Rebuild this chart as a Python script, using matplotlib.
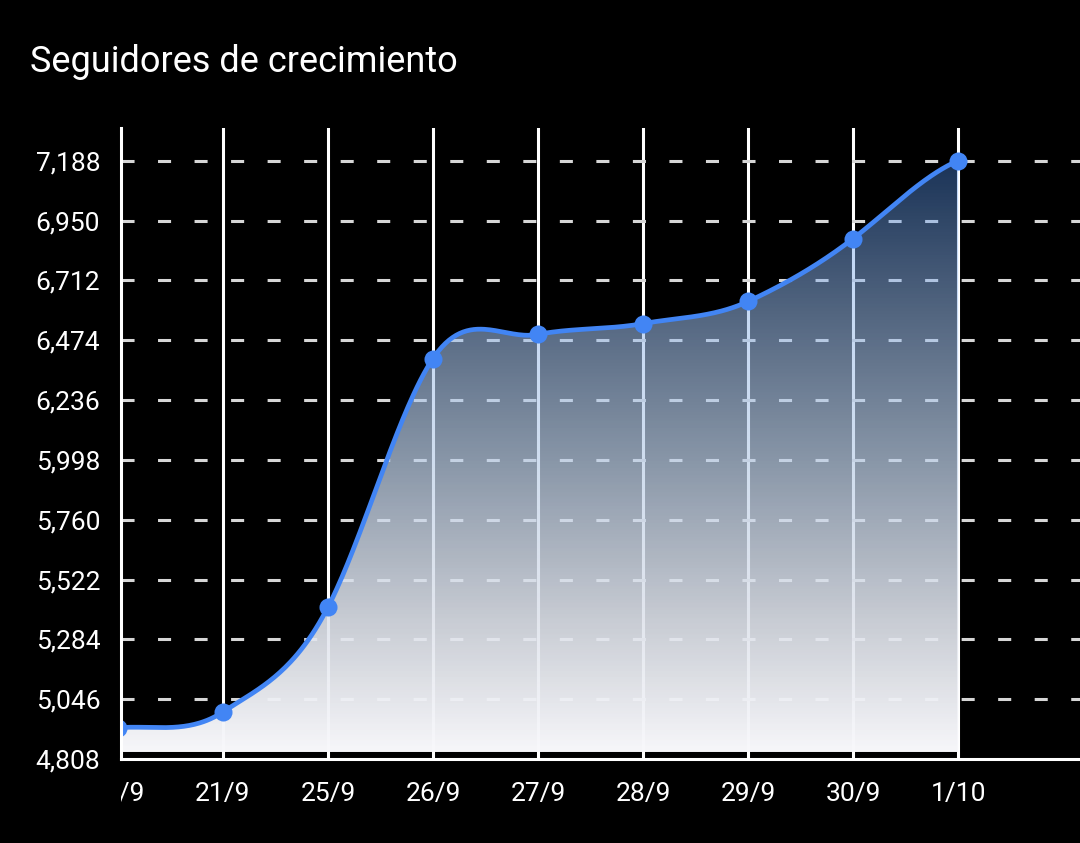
import matplotlib
matplotlib.use("Agg")
import matplotlib.pyplot as plt
import numpy as np
from matplotlib.patches import Rectangle, Polygon

# datos
dates = ["20/9", "21/9", "25/9", "26/9", "27/9", "28/9", "29/9", "30/9", "1/10"]
followers = [4932, 4995, 5412, 6401, 6497, 6540, 6628, 6878, 7188]
y_ticks = [4808, 5046, 5284, 5522, 5760, 5998, 6236, 6474, 6712, 6950, 7188]
title = "Seguidores de crecimiento"

LINE = "#4285f4"
W, H = 1080, 843

plt.rcParams["font.family"] = ["Roboto", "DejaVu Sans"]
plt.rcParams["lines.scale_dashes"] = False


def smooth(ys, c=1.15, n=60):
    """spline cardinal (x uniforme, tangentes escaladas)"""
    ys = np.asarray(ys, float)
    pad = np.concatenate([[ys[0]], ys, [ys[-1]]])
    m = c * (pad[2:] - pad[:-2]) / 2
    xs_out, ys_out = [], []
    t = np.linspace(0, 1, n)
    h00 = 2 * t**3 - 3 * t**2 + 1
    h10 = t**3 - 2 * t**2 + t
    h01 = -2 * t**3 + 3 * t**2
    h11 = t**3 - t**2
    for i in range(len(ys) - 1):
        xs_out.append(i + t)
        ys_out.append(h00 * ys[i] + h10 * m[i] + h01 * ys[i + 1] + h11 * m[i + 1])
    return np.concatenate(xs_out), np.concatenate(ys_out)


fig = plt.figure(figsize=(W / 100, H / 100), dpi=100, facecolor="black")
ax = fig.add_axes([121 / W, 84 / H, 1 - 121 / W, (715 - 84) / H])
ax.set_facecolor("black")

x = np.arange(len(dates))
xmin, xmax = 0.03, 9.16
ymin, ymax = y_ticks[0], 7318
ax.set_xlim(xmin, xmax)
ax.set_ylim(ymin, ymax)

# rejilla
for xi in x:
    ax.axvline(xi, color="white", lw=2.2, zorder=0.5)
for yt in y_ticks[1:]:
    ax.axhline(yt, color="#d6d6d6", lw=2.2, dashes=(9.4, 16.9), zorder=0.5)

# curva suavizada y relleno con degradado
sx, sy = smooth(followers)
stops_t = np.array([0.0, 0.23, 0.5, 1.0])
stops_e = np.array([[248, 248, 251], [200, 204, 212], [136, 150, 168], [27, 52, 88]], float)
stops_a = np.array([1.0, 0.9, 0.72, 0.365])
N = 300
tt = np.linspace(0, 1, N)
alpha = np.interp(tt, stops_t, stops_a)
eff = np.stack([np.interp(tt, stops_t, stops_e[:, k]) for k in range(3)], axis=1)
rgb = np.clip(eff / alpha[:, None] / 255, 0, 1)
grad = np.concatenate([rgb, alpha[:, None]], axis=1)[:, None, :]
img = ax.imshow(grad, extent=[xmin, x[-1], ymin + 28, max(followers)], origin="lower",
                aspect="auto", zorder=1, interpolation="bilinear")
poly = Polygon(np.column_stack([np.r_[sx, sx[-1], sx[0]], np.r_[sy, ymin + 28, ymin + 28]]),
               closed=True, facecolor="none", edgecolor="none", transform=ax.transData)
ax.add_patch(poly)
img.set_clip_path(poly)
ax.set_xlim(xmin, xmax)
ax.set_ylim(ymin, ymax)

ax.plot(sx, sy, color=LINE, lw=3.4, zorder=3, solid_capstyle="butt")
ax.scatter(x, followers, s=169, color=LINE, zorder=4, linewidths=0)

# ejes
for side in ["top", "right"]:
    ax.spines[side].set_visible(False)
for side in ["left", "bottom"]:
    ax.spines[side].set_color("white")
    ax.spines[side].set_linewidth(2.2)
    ax.spines[side].set_zorder(5)

ax.set_yticks(y_ticks)
ax.set_yticklabels([f"{v:,}" for v in y_ticks])
ax.tick_params(axis="y", length=0, pad=15, labelsize=19, labelcolor="white")
ax.set_xticks([])

# etiquetas de fecha recortadas por el borde izquierdo
clip = Rectangle((121 / W, 0), 1, 1, transform=fig.transFigure)
for xi, d in zip(x, dates):
    t = ax.text(xi, -0.055, d, transform=ax.get_xaxis_transform(), ha="center",
                va="center", fontsize=19, color="white")
    t.set_clip_path(clip)
    t.set_clip_on(True)

fig.text(30 / W, 1 - 72 / H, title, fontsize=26, color="white", va="baseline", ha="left")

fig.savefig("out.png", dpi=100, facecolor="black")
